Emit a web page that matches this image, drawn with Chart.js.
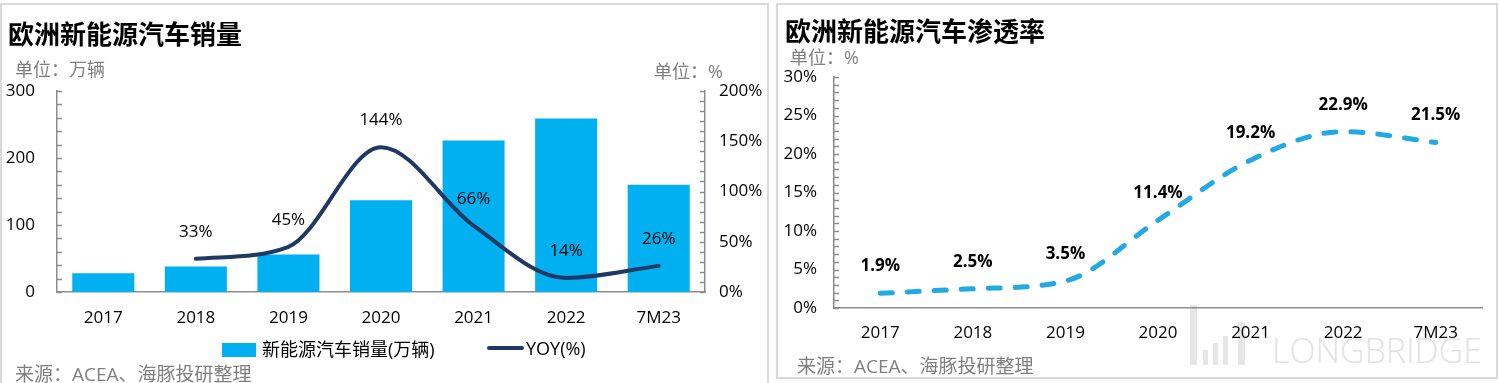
<!DOCTYPE html>
<html>
<head>
<meta charset="utf-8">
<script src="https://cdn.jsdelivr.net/npm/chart.js@4.4.1/dist/chart.umd.min.js"></script>
<style>
  html, body { margin: 0; padding: 0; background: #fff; }
  body { width: 1500px; height: 383px; position: relative; overflow: hidden;
         font-family: "Open Sans", "Noto Sans CJK SC", sans-serif; }
  .panel { position: absolute; border: 2px solid #d9d9d9; box-sizing: border-box; }
  canvas { position: absolute; top: 0; }
  .txt { position: absolute; white-space: nowrap; }
  .title { font-family: "Noto Sans CJK SC", sans-serif; font-size: 26px; line-height: 26px; font-weight: bold; color: #000; }
  .unit { font-size: 18px; line-height: 18px; color: #7f7f7f; }
  .src { font-size: 19px; line-height: 19px; color: #7f7f7f; }
  .leg { font-size: 18px; line-height: 18px; color: #000; }
  .lb { position: absolute; color: #e3e3e3; font-family: "Open Sans", sans-serif; font-weight: 300;
        font-size: 34px; line-height: 34px; }
  .bar { position: absolute; background: #e6e6e6; }
</style>
</head>
<body>
<div class="panel" style="left:0;top:3px;width:769px;height:382px;"></div>
<div class="panel" style="left:776px;top:3px;width:722px;height:376px;"></div>

<!-- LONGBRIDGE watermark -->
<div class="bar" style="left:1190px;top:305px;width:7px;height:60px;"></div>
<div class="bar" style="left:1203px;top:350px;width:5px;height:15px;"></div>
<div class="bar" style="left:1213px;top:343px;width:5px;height:22px;"></div>
<div class="bar" style="left:1223px;top:336px;width:5px;height:29px;"></div>
<div class="bar" style="left:1238px;top:322px;width:7px;height:43px;"></div>
<div class="lb" style="left:1272px;top:333px;">LONGBRIDGE</div>

<canvas id="c1" width="770" height="383" style="left:0;"></canvas>
<canvas id="c2" width="720" height="383" style="left:777px;"></canvas>

<div class="txt title" style="left:8px;top:20px;">欧洲新能源汽车销量</div>
<div class="txt unit" style="left:15px;top:60px;">单位：万辆</div>
<div class="txt unit" style="left:654px;top:62px;">单位：%</div>
<div class="txt src" style="left:15px;top:365px;">来源：ACEA、海豚投研整理</div>

<div style="position:absolute;left:222px;top:343px;width:34px;height:14px;background:#00B0F0;"></div>
<div class="txt leg" style="left:262px;top:340px;">新能源汽车销量(万辆)</div>
<div style="position:absolute;left:487px;top:346px;width:37px;height:4px;background:#203864;border-radius:2px;"></div>
<div class="txt leg" style="left:526px;top:339px;">YOY(%)</div>

<div class="txt title" style="left:785px;top:17px;">欧洲新能源汽车渗透率</div>
<div class="txt unit" style="left:790px;top:48px;">单位：%</div>
<div class="txt src" style="left:797px;top:357px;">来源：ACEA、海豚投研整理</div>

<script>
// ---- data ----
const categories = ['2017', '2018', '2019', '2020', '2021', '2022', '7M23'];
const salesValues = [28, 38, 56, 137, 226, 259, 160];          // 万辆
const yoyValues = [null, 33, 45, 144, 66, 14, 26];              // %
const penetrationValues = [1.9, 2.5, 3.5, 11.4, 19.2, 22.9, 21.5]; // %

const salesAxis = { min: 0, max: 300, step: 100, minor: 20 };
const yoyAxis = { min: 0, max: 200, step: 50, minor: 10 };
const penAxis = { min: 0, max: 30, step: 5, minor: 1 };

const FONT = '"Open Sans", "Noto Sans CJK SC", sans-serif';
Chart.defaults.font.family = FONT;
Chart.defaults.color = '#000';

const AXIS_COLOR = '#8c8c8c';

// inward minor ticks drawn at scale values
const minorTicks = {
  id: 'minorTicks',
  afterDraw(chart, args, opts) {
    const ctx = chart.ctx;
    ctx.save();
    ctx.strokeStyle = AXIS_COLOR;
    ctx.lineWidth = 1.5;
    for (const id in opts.scales) {
      const sc = chart.scales[id];
      const cfg = opts.scales[id];
      const x0 = sc.position === 'left' ? chart.chartArea.left : chart.chartArea.right;
      const dir = sc.position === 'left' ? 1 : -1;
      for (let v = cfg.min; v <= cfg.max + 1e-9; v += cfg.minor) {
        const y = Math.round(sc.getPixelForValue(v)) + 0.5;
        ctx.beginPath();
        ctx.moveTo(x0, y);
        ctx.lineTo(x0 + dir * 5, y);
        ctx.stroke();
      }
    }
    ctx.restore();
  }
};

// value labels above points
const pointLabels = {
  id: 'pointLabels',
  afterDatasetsDraw(chart) {
    const ctx = chart.ctx;
    ctx.save();
    chart.data.datasets.forEach((ds, i) => {
      if (!ds.pointLabel) return;
      const meta = chart.getDatasetMeta(i);
      ctx.font = ds.pointLabel.font;
      ctx.fillStyle = '#000';
      ctx.textAlign = 'center';
      ctx.textBaseline = 'middle';
      meta.data.forEach((el, j) => {
        const v = ds.data[j];
        if (v === null || v === undefined) return;
        ctx.fillText(ds.pointLabel.format(v), el.x, el.y - ds.pointLabel.offset);
      });
    });
    ctx.restore();
  }
};

// ---- chart 1 ----
new Chart(document.getElementById('c1'), {
  data: {
    labels: categories,
    datasets: [
      {
        type: 'line', label: 'YOY(%)', data: yoyValues, yAxisID: 'y1', order: 0,
        borderColor: '#203864', borderWidth: 4, pointRadius: 0,
        cubicInterpolationMode: 'monotone', borderCapStyle: 'round',
        pointLabel: { font: '17px ' + FONT, offset: 27, format: v => v + '%' }
      },
      {
        type: 'bar', label: '新能源汽车销量(万辆)', data: salesValues, yAxisID: 'y', order: 1,
        backgroundColor: '#00B0F0', categoryPercentage: 1, barPercentage: 0.67
      }
    ]
  },
  options: {
    responsive: false, animation: false, devicePixelRatio: 1,
    layout: { padding: { top: 91, left: 0, right: 0, bottom: 0 } },
    plugins: {
      legend: { display: false }, tooltip: { enabled: false },
      minorTicks: { scales: { y: salesAxis, y1: yoyAxis } }
    },
    scales: {
      x: {
        grid: { display: false, drawTicks: false },
        border: { color: AXIS_COLOR, width: 1.5 },
        ticks: { padding: 16, font: { size: 17 }, color: '#000', maxRotation: 0 },
        afterFit: s => { s.height = 91; }
      },
      y: {
        position: 'left', min: salesAxis.min, max: salesAxis.max,
        grid: { display: false, drawTicks: false },
        border: { color: AXIS_COLOR, width: 1.5 },
        ticks: { stepSize: salesAxis.step, padding: 22, font: { size: 17 }, color: '#000' },
        afterFit: s => { s.width = 57; }
      },
      y1: {
        position: 'right', min: yoyAxis.min, max: yoyAxis.max,
        grid: { display: false, drawTicks: false },
        border: { color: AXIS_COLOR, width: 1.5 },
        ticks: { stepSize: yoyAxis.step, padding: 14, font: { size: 17 }, color: '#000', callback: v => v + '%' },
        afterFit: s => { s.width = 65; }
      }
    }
  },
  plugins: [minorTicks, pointLabels]
});

// ---- chart 2 ----
new Chart(document.getElementById('c2'), {
  type: 'line',
  data: {
    labels: categories,
    datasets: [{
      label: '渗透率', data: penetrationValues,
      borderColor: '#22A9E1', borderWidth: 5, pointRadius: 0,
      borderDash: [12, 15], borderCapStyle: 'round',
      cubicInterpolationMode: 'monotone',
      pointLabel: { font: 'bold 17px ' + FONT, offset: 27, format: v => v.toFixed(1) + '%' }
    }]
  },
  options: {
    responsive: false, animation: false, devicePixelRatio: 1,
    layout: { padding: { top: 77, left: 0, right: 15, bottom: 0 } },
    plugins: {
      legend: { display: false }, tooltip: { enabled: false },
      minorTicks: { scales: { y: penAxis } }
    },
    scales: {
      x: {
        offset: true,
        grid: { display: false, drawTicks: false, offset: true },
        border: { color: AXIS_COLOR, width: 1.5 },
        ticks: { padding: 15, font: { size: 17 }, color: '#000', maxRotation: 0 },
        afterFit: s => { s.height = 75; }
      },
      y: {
        position: 'left', min: penAxis.min, max: penAxis.max,
        grid: { display: false, drawTicks: false },
        border: { color: AXIS_COLOR, width: 1.5 },
        ticks: { stepSize: penAxis.step, padding: 17, font: { size: 17 }, color: '#000', callback: v => v + '%' },
        afterFit: s => { s.width = 57; }
      }
    }
  },
  plugins: [minorTicks, pointLabels]
});
</script>
</body>
</html>
